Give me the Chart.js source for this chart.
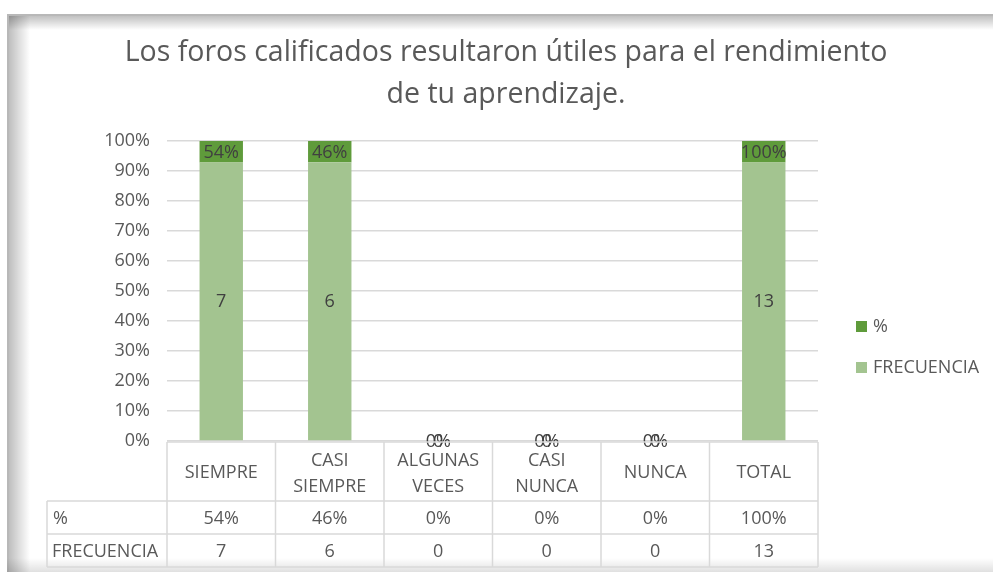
<!DOCTYPE html>
<html>
<head>
<meta charset="utf-8">
<script src="https://cdn.jsdelivr.net/npm/chart.js@4.4.1/dist/chart.umd.min.js"></script>
<style>
  html, body { margin: 0; padding: 0; background: #fff; }
  #wrap { width: 993px; height: 572px; }
</style>
</head>
<body>
<div id="wrap"><canvas id="grafico" width="993" height="572"></canvas></div>
<script>
// datos
var categorias = [['SIEMPRE'], ['CASI', 'SIEMPRE'], ['ALGUNAS', 'VECES'], ['CASI', 'NUNCA'], ['NUNCA'], ['TOTAL']];
var frecuencia = [7, 6, 0, 0, 0, 13];
var porcentaje = [0.54, 0.46, 0, 0, 0, 1];
var titulo = ['Los foros calificados resultaron útiles para el rendimiento', 'de tu aprendizaje.'];

var verdeOscuro = '#5f9b3b';
var verdeClaro = '#a3c490';
var gris = '#595959';
var linea = '#d9d9d9';
var fuente = '"Open Sans", "Noto Sans", sans-serif';

// columnas apiladas al 100%
var partFrec = frecuencia.map(function(f, i) {
	var s = f + porcentaje[i];
	return s ? f / s * 100 : 0;
});
var partPct = porcentaje.map(function(p, i) {
	var s = frecuencia[i] + p;
	return s ? p / s * 100 : 0;
});

function fmtPct(v) { return Math.round(v * 100) + '%'; }

var extras = {
	id: 'extras',
	beforeDraw: function(chart) {
		var ctx = chart.ctx;
		ctx.save();
		ctx.fillStyle = '#fff';
		ctx.fillRect(0, 0, chart.width, chart.height);
		// marco con sombra
		var g = ctx.createLinearGradient(7, 0, 30, 0);
		g.addColorStop(0, 'rgba(0,0,0,0.28)');
		g.addColorStop(1, 'rgba(0,0,0,0)');
		ctx.fillStyle = g;
		ctx.fillRect(7, 14, 23, chart.height - 14);
		g = ctx.createLinearGradient(0, 14, 0, 30);
		g.addColorStop(0, 'rgba(0,0,0,0.28)');
		g.addColorStop(1, 'rgba(0,0,0,0)');
		ctx.fillStyle = g;
		ctx.fillRect(7, 14, chart.width - 7, 16);
		ctx.fillStyle = '#b8b8b8';
		ctx.fillRect(7, 14, 2, chart.height - 14);
		ctx.fillRect(7, 14, chart.width - 7, 2);
		g = ctx.createLinearGradient(0, 558, 0, 572);
		g.addColorStop(0, 'rgba(0,0,0,0)');
		g.addColorStop(1, 'rgba(0,0,0,0.12)');
		ctx.fillStyle = g;
		ctx.fillRect(7, 558, chart.width - 7, 14);
		ctx.restore();
	},
	afterDraw: function(chart) {
		var ctx = chart.ctx;
		var x = chart.scales.x;
		var area = chart.chartArea;
		ctx.save();
		// titulo
		ctx.fillStyle = gris;
		ctx.textAlign = 'center';
		ctx.textBaseline = 'middle';
		ctx.font = '28.5px ' + fuente;
		ctx.fillText(titulo[0], 506, 53);
		ctx.fillText(titulo[1], 506, 95);

		// etiquetas de datos
		ctx.font = '18px ' + fuente;
		ctx.fillStyle = '#404040';
		var m0 = chart.getDatasetMeta(0), m1 = chart.getDatasetMeta(1);
		for (var i = 0; i < categorias.length; i++) {
			var b0 = m0.data[i], b1 = m1.data[i];
			var c0 = (b0.y + b0.base) / 2, c1 = (b1.y + b1.base) / 2;
			ctx.fillText(frecuencia[i], b0.x, c0 + 1);
			ctx.fillText(fmtPct(porcentaje[i]), b1.x, c1 + 1);
		}

		// tabla de datos
		var w = (x.getPixelForValue(1) - x.getPixelForValue(0));
		var izq = area.left, der = area.right;
		var y0 = area.bottom + 1, y1 = y0 + 59, y2 = y1 + 33, y3 = y2 + 33;
		var izqTabla = 47;
		ctx.strokeStyle = linea;
		ctx.lineWidth = 1.5;
		ctx.beginPath();
		ctx.moveTo(izq, y0); ctx.lineTo(der, y0);
		ctx.moveTo(izqTabla, y1); ctx.lineTo(der, y1);
		ctx.moveTo(izqTabla, y2); ctx.lineTo(der, y2);
		ctx.moveTo(izqTabla, y3); ctx.lineTo(der, y3);
		ctx.moveTo(izqTabla, y1); ctx.lineTo(izqTabla, y3);
		for (var k = 0; k <= categorias.length; k++) {
			var xx = izq + k * w;
			ctx.moveTo(xx, y0); ctx.lineTo(xx, y3);
		}
		ctx.stroke();

		ctx.fillStyle = gris;
		ctx.textAlign = 'center';
		for (var j = 0; j < categorias.length; j++) {
			var cx = x.getPixelForValue(j);
			var lab = categorias[j];
			var my = (y0 + y1) / 2 + 1;
			if (lab.length === 1) {
				ctx.fillText(lab[0], cx, my);
			} else {
				ctx.fillText(lab[0], cx, my - 12);
				ctx.fillText(lab[1], cx, my + 14);
			}
			ctx.fillText(fmtPct(porcentaje[j]), cx, (y1 + y2) / 2 + 1);
			ctx.fillText(frecuencia[j], cx, (y2 + y3) / 2 + 1);
		}
		ctx.textAlign = 'left';
		ctx.fillText('%', 53, (y1 + y2) / 2 + 1);
		ctx.fillText('FRECUENCIA', 52, (y2 + y3) / 2 + 1);

		// leyenda
		var ley = [chart.data.datasets[1], chart.data.datasets[0]];
		ley.forEach(function(d, n) {
			var ly = 327 + n * 41;
			ctx.fillStyle = d.backgroundColor;
			ctx.fillRect(856, ly - 6, 11, 11);
			ctx.fillStyle = gris;
			ctx.fillText(d.label, 873, ly);
		});
		ctx.restore();
	}
};

new Chart(document.getElementById('grafico'), {
	type: 'bar',
	data: {
		labels: categorias,
		datasets: [{
			label: 'FRECUENCIA',
			data: partFrec,
			backgroundColor: verdeClaro,
			barPercentage: 0.4,
			categoryPercentage: 1
		}, {
			label: '%',
			data: partPct,
			backgroundColor: verdeOscuro,
			barPercentage: 0.4,
			categoryPercentage: 1
		}]
	},
	options: {
		responsive: false,
		animation: false,
		events: [],
		layout: { padding: { top: 141, bottom: 131, right: 175, left: 0 } },
		plugins: {
			legend: { display: false },
			tooltip: { enabled: false }
		},
		scales: {
			x: {
				stacked: true,
				display: false
			},
			y: {
				stacked: true,
				min: 0,
				max: 100,
				afterFit: function(s) { s.width = 167; },
				border: { display: false },
				grid: { color: linea, lineWidth: 1.5, drawTicks: false },
				ticks: {
					stepSize: 10,
					padding: 17,
					color: gris,
					font: { size: 18, family: fuente },
					callback: function(v) { return v + '%'; }
				}
			}
		}
	},
	plugins: [extras]
});
</script>
</body>
</html>
